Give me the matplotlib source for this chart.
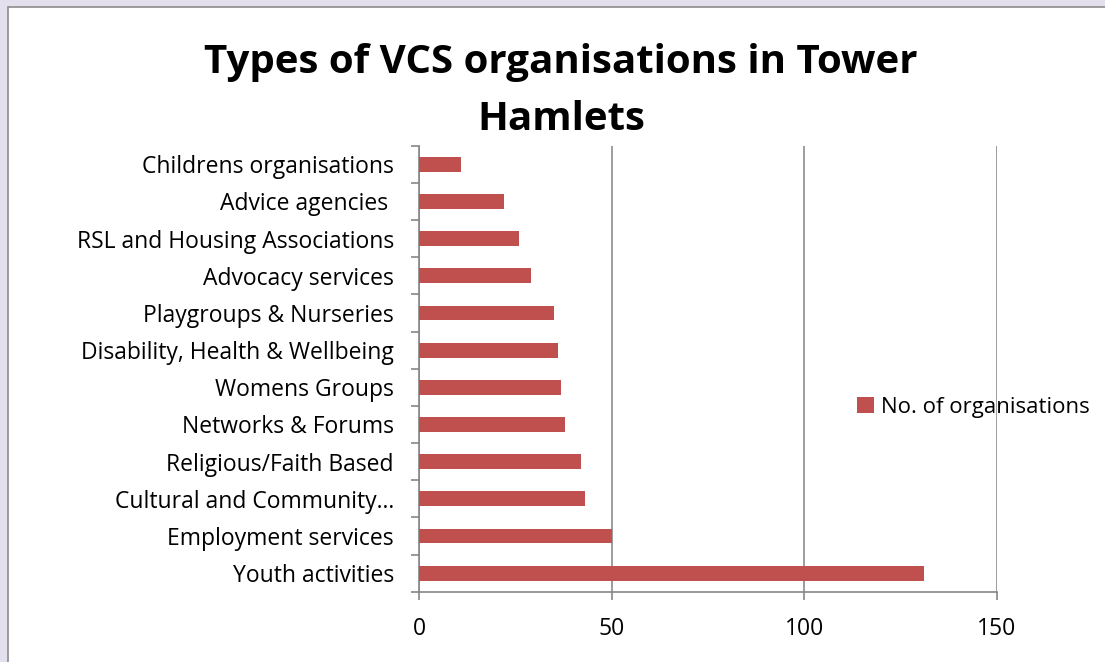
import matplotlib
matplotlib.use("Agg")
import matplotlib.pyplot as plt
import numpy as np
from matplotlib.patches import Rectangle

categories = ["Youth activities", "Employment services", "Cultural and Community…",
              "Religious/Faith Based", "Networks & Forums", "Womens Groups",
              "Disability, Health & Wellbeing", "Playgroups & Nurseries",
              "Advocacy services", "RSL and Housing Associations",
              "Advice agencies ", "Childrens organisations"]
values = [131, 50, 43, 42, 38, 37, 36, 35, 29, 26, 22, 11]
series_name = "No. of organisations"
x_ticks = [0, 50, 100, 150]
title = "Types of VCS organisations in Tower\nHamlets"

plt.rcParams['font.family'] = ['Open Sans', 'DejaVu Sans']

W, H = 1105, 662
fig = plt.figure(figsize=(W / 100, H / 100), dpi=100)
fig.patch.set_facecolor("#E4DFEC")
# white chart area with grey border
fig.patches.append(Rectangle((8 / W, -0.01), 1.02, 1 - 7 / H + 0.01,
                             transform=fig.transFigure, facecolor="white",
                             edgecolor="#8C8C8C", linewidth=1.2, zorder=-5))

ax = fig.add_axes([419 / W, 1 - 591.7 / H, (996.7 - 419) / W, (591.7 - 145.7) / H])
ax.set_facecolor("none")
y = np.arange(len(categories))
ax.barh(y, values, height=0.4, color="#C0504D", label=series_name, zorder=3)
ax.set_xlim(0, 150)
ax.set_ylim(-0.5, len(categories) - 0.5)
ax.set_xticks(x_ticks)
ax.set_xticklabels([str(t) for t in x_ticks])
ax.set_yticks(y)
ax.set_yticklabels(categories)
ax.set_yticks(np.arange(-0.5, len(categories)), minor=True)
ax.tick_params(axis="y", which="major", length=0, pad=18, labelsize=16.5)
ax.tick_params(axis="y", which="minor", length=6, width=1.2, color="#868686")
ax.tick_params(axis="x", which="major", length=6, width=1.2, color="#868686",
               pad=12, labelsize=16.5)
ax.xaxis.grid(True, color="#8C8C8C", linewidth=1.2, zorder=0)
ax.set_axisbelow(True)
for s in ["top", "right"]:
    ax.spines[s].set_visible(False)
for s in ["left", "bottom"]:
    ax.spines[s].set_color("#868686")
    ax.spines[s].set_linewidth(1.2)

fig.text(561 / W, 1 - 91 / H, title, ha="center", va="center",
         fontsize=29, fontweight="bold", linespacing=1.6)

fig.legend(loc="center left", bbox_to_anchor=(848 / W, 1 - 407 / H),
           frameon=False, fontsize=16, handlelength=0.75, handleheight=0.75,
           handletextpad=0.35, borderaxespad=0)

fig.savefig("out.png", dpi=100, facecolor=fig.get_facecolor())
